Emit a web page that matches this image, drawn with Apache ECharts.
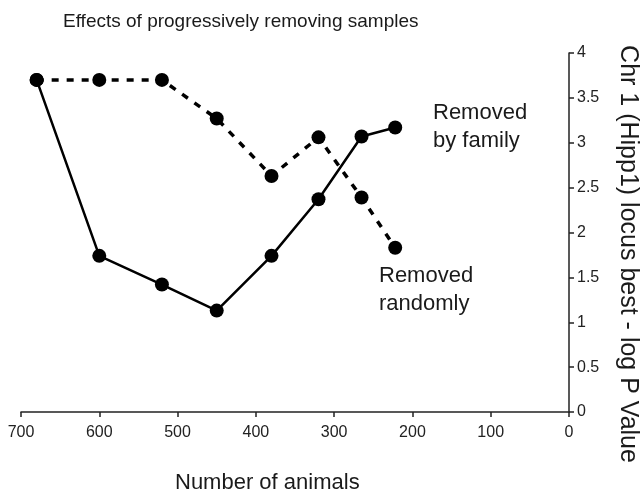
<!DOCTYPE html>
<html>
<head>
<meta charset="utf-8">
<script src="https://cdn.jsdelivr.net/npm/echarts@6/dist/echarts.min.js"></script>
<style>
  html, body { margin: 0; padding: 0; background: #fff; }
  #chart { width: 643px; height: 494px; }
</style>
</head>
<body>
<div id="chart"></div>
<script>
// Number of animals remaining (x)
const animals = [680, 600, 520, 450, 380, 320, 265, 222];
// Solid line (label "Removed by family")
const byFamily = [3.70, 1.74, 1.42, 1.13, 1.74, 2.37, 3.07, 3.17];
// Dashed line (label "Removed randomly")
const randomly = [3.70, 3.70, 3.70, 3.27, 2.63, 3.06, 2.39, 1.83];

const titleText = 'Effects of progressively removing samples';
const xName = 'Number of animals';
const yName = 'Chr 1 (Hipp1) locus best - log P Value';

const font = 'Liberation Sans, Arial, sans-serif';

const chart = echarts.init(document.getElementById('chart'), null, { renderer: 'canvas' });

function pairs(xs, ys) { return xs.map((x, i) => [x, ys[i]]); }

chart.setOption({
  animation: false,
  backgroundColor: '#ffffff',
  title: [
    { text: titleText, left: 58, top: 7,
      textStyle: { fontFamily: font, fontSize: 19, fontWeight: 'normal', color: '#1a1a1a' } },
    { text: xName, left: 170, top: 467,
      textStyle: { fontFamily: font, fontSize: 22, fontWeight: 'normal', color: '#1a1a1a' } }
  ],
  grid: { left: 21, right: 74, top: 53, bottom: 82, outerBoundsMode: 'none', containLabel: false },
  xAxis: {
    type: 'value', inverse: true, min: 0, max: 700, interval: 100,
    axisLine: { show: true, onZero: false, lineStyle: { color: '#222', width: 1.5 } },
    axisTick: { show: true, inside: false, length: 5, lineStyle: { color: '#222', width: 1.5 } },
    axisLabel: { fontFamily: font, fontSize: 16, color: '#222', margin: 13 },
    splitLine: { show: false }
  },
  yAxis: {
    type: 'value', position: 'right', min: 0, max: 4, interval: 0.5,
    axisLine: { show: true, lineStyle: { color: '#222', width: 1.5 } },
    axisTick: { show: true, inside: false, length: 5, lineStyle: { color: '#222', width: 1.5 } },
    axisLabel: { fontFamily: font, fontSize: 16, color: '#222', margin: 8 },
    splitLine: { show: false }
  },
  series: [
    { type: 'line', data: pairs(animals, byFamily), symbol: 'circle', symbolSize: 14,
      lineStyle: { color: '#000', width: 2.5, type: 'solid' },
      itemStyle: { color: '#000' } },
    { type: 'line', data: pairs(animals, randomly), symbol: 'circle', symbolSize: 14,
      lineStyle: { color: '#000', width: 3.5, type: [7, 8] },
      itemStyle: { color: '#000' } }
  ],
  graphic: [
    { type: 'text', left: 433, top: 99,
      style: { text: 'Removed\nby family', fontFamily: font, fontSize: 22, lineHeight: 28, fill: '#1a1a1a' } },
    { type: 'text', left: 379, top: 262,
      style: { text: 'Removed\nrandomly', fontFamily: font, fontSize: 22, lineHeight: 28, fill: '#1a1a1a' } },
    { type: 'text', x: 628, y: 254, rotation: -Math.PI / 2,
      style: { text: yName, fontFamily: font, fontSize: 25, fill: '#1a1a1a',
               align: 'center', verticalAlign: 'middle' } }
  ]
});
</script>
</body>
</html>
